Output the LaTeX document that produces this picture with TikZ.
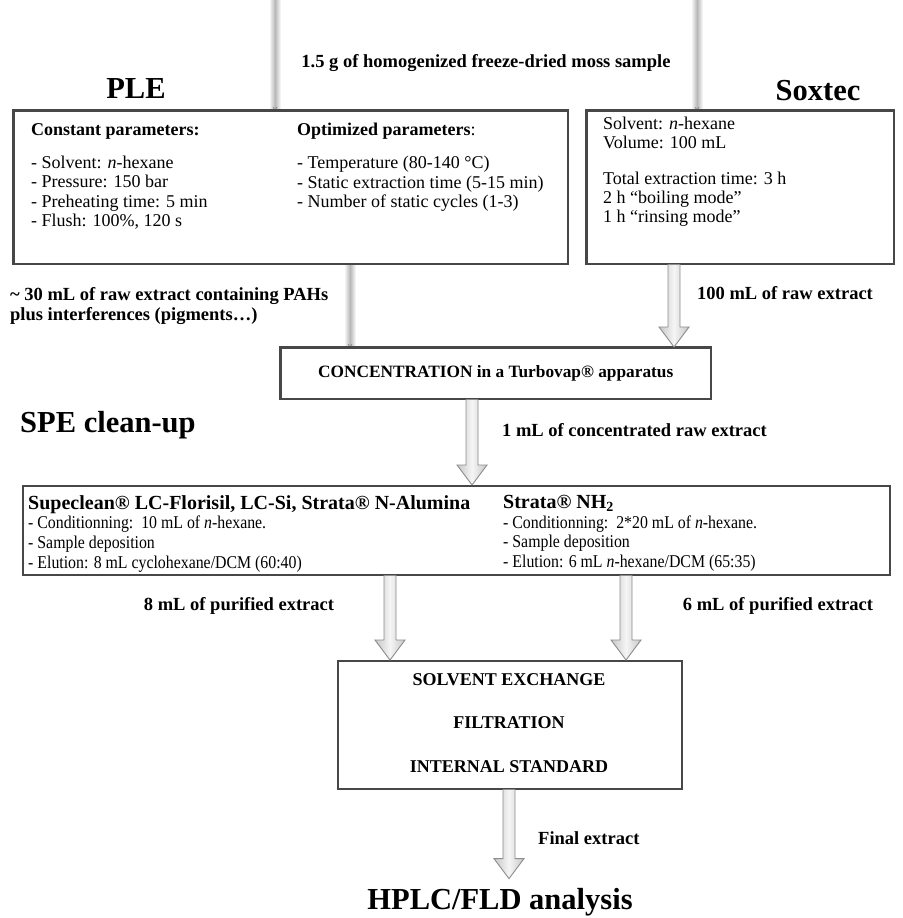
\documentclass[tikz,border=0pt]{standalone}
\usepackage{fontspec}
\setmainfont{Liberation Serif}
\newfontfamily\condfont[FakeStretch=0.88]{Liberation Serif}
\newcommand\speheadfont{\rmfamily\fontsize{20}{19.7}\selectfont\bfseries}
\usetikzlibrary{calc}
\newcommand\blockarrow[4][0]{% #1 gap at tip, #2 x, #3 source node, #4 target node
  \path[barrow] let \p1=(#3.south), \p2=(#4.north) in
    ({(#2-6)*1pt},\y1) -- ({(#2-6)*1pt},{\y2+(#1+20)*1pt}) -- ({(#2-15)*1pt},{\y2+(#1+20)*1pt})
    -- ({#2*1pt},{\y2+#1*1pt}) -- ({(#2+15)*1pt},{\y2+(#1+20)*1pt}) -- ({(#2+6)*1pt},{\y2+(#1+20)*1pt})
    -- ({(#2+6)*1pt},\y1) -- cycle;}
\newcommand\fadeline[3]{% x, source, target node
  \shade[left color=white, right color=white, middle color=black!28] let \p1=(#2), \p2=(#3.north) in
    ({(#1-6)*1pt},\y1) rectangle ({(#1+6)*1pt},\y2);
  \draw[black!50, line width=0.6pt] let \p2=(#3.north) in
    ({(#1-2)*1pt},{\y2+3pt}) -- ({#1*1pt},\y2) -- ({(#1+2)*1pt},{\y2+3pt});}
\begin{document}
\begin{tikzpicture}[x=1pt,y=-1pt,
  box/.style={draw=black!72, line width=1.5pt, fill=white, inner sep=0pt, anchor=north west},
  lbl/.style={font=\fontsize{18.5}{20}\selectfont\bfseries, inner sep=0pt},
  head/.style={font=\fontsize{30.5}{32}\selectfont\bfseries, inner sep=0pt},
  txt/.style={font=\fontsize{18}{19.3}\selectfont, inner sep=0pt, align=left, anchor=north west},
  spetxt/.style={font=\condfont\fontsize{18}{19.7}\selectfont, inner sep=0pt, align=left, anchor=north west},
  caps/.style={font=\fontsize{18}{20}\selectfont\bfseries, inner sep=0pt},
  barrow/.style={draw=black!45, line width=0.9pt, left color=black!22, right color=black!22, middle color=black!4},
]
\fill[white] (0,0) rectangle (902,918);
\useasboundingbox (0,0) rectangle (902,918);

% boxes
\node[box, minimum width=554pt, minimum height=153pt] (ple) at (13,110) {};
\node[box, minimum width=307pt, minimum height=153pt] (sox) at (586,110) {};
\node[box, minimum width=430pt, minimum height=51pt] (conc) at (280,347) {};
\node[box, minimum width=867pt, minimum height=89pt] (spe) at (22,485) {};
\node[box, minimum width=344pt, minimum height=128pt] (solv) at (337,660) {};

% faded connectors
\coordinate (topA) at (275,0);
\coordinate (topB) at (697,0);
\fadeline{275}{topA}{ple}
\fadeline{697}{topB}{sox}
\fadeline{350}{ple.south}{conc}
% redraw box borders over the fades
\draw[black!72, line width=1.5pt] (ple.north west) rectangle (ple.south east);
\draw[black!72, line width=1.5pt] (sox.north west) rectangle (sox.south east);
\draw[black!72, line width=1.5pt] (conc.north west) rectangle (conc.south east);

% headings and labels
\node[lbl] (sample) at (486,63) {1.5 g of homogenized freeze-dried moss sample};
\node[head, anchor=base] (plet) at (136,98) {PLE};
\node[head, anchor=base] (soxt) at (818,100) {Soxtec};
\node[head, anchor=base west] (spet) at (20,432) {SPE clean-up};
\node[head, anchor=base] (hplc) at (500,909) {HPLC/FLD analysis};

% PLE box text
\node[txt] (plec) at (31,123) {{\bfseries Constant parameters:}\\[14pt]
- Solvent: \textit{n}-hexane\\
- Pressure: 150 bar\\
- Preheating time: 5 min\\
- Flush: 100\%, 120 s};
\node[txt] (pleo) at (297,123) {{\bfseries Optimized parameters}:\\[14pt]
- Temperature (80-140 °C)\\
- Static extraction time (5-15 min)\\
- Number of static cycles (1-3)};

% Soxtec text
\node[txt] (soxtxt) at (603,117) {Solvent: \textit{n}-hexane\\
Volume: 100 mL\\[16pt]
Total extraction time: 3 h\\
2 h “boiling mode”\\
1 h “rinsing mode”};

% between
\node[lbl, align=left, anchor=north west] (raw) at (10,287) {\textasciitilde\ 30 mL of raw extract containing PAHs\\plus interferences (pigments…)};
\node[lbl, anchor=west] (rawsox) at (697,293) {100 mL of raw extract};
\node[caps, font=\fontsize{17.3}{20}\selectfont\bfseries] (conct) at (conc.center) {CONCENTRATION in a Turbovap® apparatus};
\node[lbl, anchor=west] (onem) at (502,430) {1 mL of concentrated raw extract};

% SPE box text
\node[spetxt] (spel) at (28,495) {{\speheadfont Supeclean® LC-Florisil, LC-Si, Strata® N-Alumina}\\
- Conditionning:\ \ 10 mL of \textit{n}-hexane.\\
- Sample deposition\\
- Elution: 8 mL cyclohexane/DCM (60:40)};
\node[spetxt] (sper) at (503,495) {{\speheadfont Strata® NH\textsubscript{2}}\\
- Conditionning:\ \ 2*20 mL of \textit{n}-hexane.\\
- Sample deposition\\
- Elution: 6 mL \textit{n}-hexane/DCM (65:35)};

\node[lbl] (eightm) at (239,606) {8 mL of purified extract};
\node[lbl] (sixm) at (778,606) {6 mL of purified extract};

% solvent box text
\node[caps] (s1) at (509,680) {SOLVENT EXCHANGE};
\node[caps] (s2) at (509,723) {FILTRATION};
\node[caps] (s3) at (509,767) {INTERNAL STANDARD};
\node[lbl, anchor=west] (fin) at (538,838) {Final extract};

% block arrows
\blockarrow{674}{sox}{conc}
\blockarrow{472}{conc}{spe}
\blockarrow{390}{spe}{solv}
\blockarrow{626}{spe}{solv}
\blockarrow[9]{509}{solv}{hplc}
\end{tikzpicture}
\end{document}
